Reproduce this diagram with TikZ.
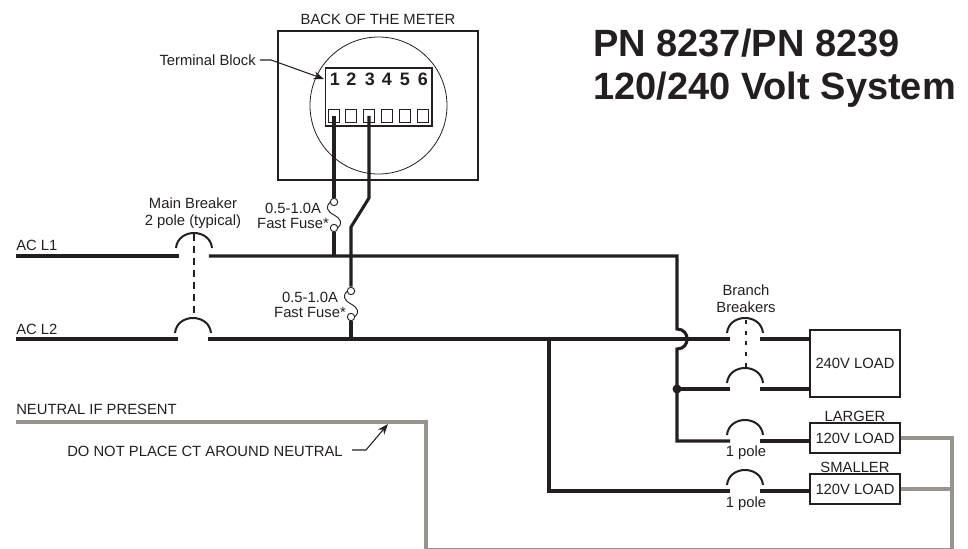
\documentclass[tikz,border=0pt]{standalone}
\usepackage{fontspec}
\setmainfont{Liberation Sans}
\usetikzlibrary{arrows.meta}
\definecolor{ink}{RGB}{35,31,32}
\definecolor{neutralgrey}{RGB}{150,148,140}
\newcommand{\labelsize}{\fontsize{11.1}{12.5}\selectfont}
\tikzset{
    wire/.style={draw=ink, line width=2.3pt},
    neutral/.style={draw=neutralgrey, line width=2.3pt},
    leader/.style={draw=ink, line width=0.8pt},
    label/.style={inner sep=0pt, text=ink, font=\labelsize, align=center},
    loadbox/.style={
        draw=ink, line width=1pt, inner sep=0pt, text=ink,
        font=\labelsize,
        minimum width=67.5pt,
        minimum height=#1
    },
    breaker/.style={
        inner sep=0pt,
        minimum width=21.75pt,
        minimum height=0pt,
        append after command={
            \pgfextra{
                \draw[ink, line width=1.5pt, shift={(\tikzlastnode.center)}] (-18,-#1)
                    .. controls (-16,-#1-20) and (16,-#1-20) .. (18,-#1);
            }
        }
    },
    breaker/.default=6,
    fuse/.style={
        inner sep=0pt,
        minimum width=0pt,
        minimum height=25.5pt,
        append after command={
            \pgfextra{
                \begin{scope}[shift={(\tikzlastnode.center)}, ink, line width=0.7pt]
                    \draw (-3.5,-13) .. controls (-9,-8) and (-7,-4) .. (0,0)
                        .. controls (7,4) and (9,8) .. (3.5,13);
                    \draw[fill=white] (0,-13) circle [radius=3.7];
                    \draw[fill=white] (0,13) circle [radius=3.7];
                \end{scope}
            }
        }
    },
    terminal/.style={
        draw=ink, line width=0.7pt, inner sep=0pt, minimum width=8.2pt, minimum height=9.5pt
    }
}

\begin{document}
\begin{tikzpicture}[x=0.75pt,y=-0.75pt]
    \useasboundingbox (0,0) rectangle (968,549);

    % Title
    \node[anchor=west, inner sep=0pt, text=ink, font=\fontsize{28.5}{32.25}\selectfont\bfseries, align=left] (title) at (593,68)
        {PN 8237/PN 8239\\120/240 Volt System};

    % Back of the meter
    \node[label] (backlabel) at (378,19) {BACK OF THE METER};
    \node[draw=ink, line width=1pt, minimum width=150pt, minimum height=111.75pt, inner sep=0pt] (meter) at (378,105.5) {};
    \node[draw=ink, line width=0.6pt, circle, minimum size=102.75pt, inner sep=0pt] (dial) at (378.5,105.5) {};
    \node[draw=ink, line width=1pt, minimum width=80pt, minimum height=43.5pt, inner sep=0pt] (block) at (378.5,97) {};
    \foreach \n/\x in {1/335,2/351.5,3/370,4/387,5/405,6/423} {
        \node[anchor=base, inner sep=0pt, text=ink, font=\fontsize{13.5}{15}\selectfont\bfseries] (num\n) at (\x,86) {\n};
    }
    \foreach \n/\x in {1/334,2/351,3/369,4/387,5/405,6/423} {
        \node[terminal] (term\n) at (\x,116) {};
    }

    % Terminal block label
    \node[label, anchor=east] (blocklabel) at (256,60) {Terminal Block};
    \coordinate (blocktip) at (324,79);
    \draw[leader, -{Stealth[length=8pt,width=6pt]}] (blocklabel.east) ++(4,0) -- (271,60) -- (blocktip);

    % Main lines
    \node[label, anchor=west] (l1label) at (16,245) {AC L1};
    \node[label, anchor=west] (l2label) at (16,329) {AC L2};
    \coordinate (l1start) at (16,256);
    \coordinate (l2start) at (16,339);
    \node[breaker=8] (mainA) at (194,256) {};
    \node[breaker] (mainB) at (193,339) {};
    \node[label] (mainlabel) at (193,213.5) {Main Breaker\\2 pole (typical)};
    \draw[leader, line width=1.1pt, dash pattern=on 5pt off 4pt] (194,234) -- (194,317);

    % Fuses
    \node[fuse] (fuseA) at (334,215) {};
    \node[fuse] (fuseB) at (351,304) {};
    \node[label] (fuseAlabel) at (293,216) {0.5-1.0A\\[-1.5pt]Fast Fuse*};
    \node[label] (fuseBlabel) at (310,305) {0.5-1.0A\\[-1.5pt]Fast Fuse*};
    \coordinate (l1tap) at (334,256);
    \coordinate (l2tap) at (351,339);
    \coordinate (kneeA) at (369,198);
    \coordinate (kneeB) at (351,227);
    \coordinate (l1turn) at (677,256);
    \coordinate (hopA) at (677,329);
    \coordinate (hopB) at (677,349);
    \coordinate (smallturn) at (549,491);
    \coordinate (l2split) at (549,339);

    \draw[wire] (term1.center) -- (fuseA.north);
    \draw[wire] (fuseA.south) -- (l1tap);
    \draw[wire] (term3.center) -- (kneeA) -- (kneeB) -- (fuseB.north);
    \draw[wire] (fuseB.south) -- (l2tap);

    % Branch breakers
    \node[breaker] (branchA) at (745,339) {};
    \node[breaker] (branchB) at (745,389) {};
    \node[breaker] (branchC) at (745,441) {};
    \node[breaker] (branchD) at (745,491) {};
    \node[label] (branchlabel) at (746,298.5) {Branch\\Breakers};
    \node[label] (poleC) at (746,453) {1 pole};
    \node[label] (poleD) at (746,504) {1 pole};
    \draw[leader, line width=1.1pt, dash pattern=on 3pt off 5pt] (746,320) -- (746,367);

    % Loads
    \node[loadbox=50.25pt] (load240) at (855,363.5) {240V LOAD};
    \node[loadbox=22.5pt] (loadlarge) at (855,438) {120V LOAD};
    \node[loadbox=22.5pt] (loadsmall) at (855,489) {120V LOAD};
    \node[label] (largelabel) at (855,416) {LARGER};
    \node[label] (smalllabel) at (855,467) {SMALLER};

    % Hot wires
    \draw[wire] (l1start) -- (mainA.west);
    \draw[wire] (mainA.east) -- (l1turn) -- (hopA)
        .. controls (690.5,329) and (690.5,349) .. (hopB) |- (branchC.west);
    \draw[wire] (l2start) -- (mainB.west);
    \draw[wire] (mainB.east) -- (branchA.west);
    \draw[wire] (branchA.east) -- (load240.west |- branchA);
    \draw[wire] (hopB |- branchB) -- (branchB.west);
    \draw[wire] (branchB.east) -- (load240.west |- branchB);
    \draw[wire] (branchC.east) -- (loadlarge.west |- branchC);
    \draw[wire] (l2split) -- (smallturn) -- (branchD.west);
    \draw[wire] (branchD.east) -- (loadsmall.west |- branchD);
    \fill[ink] (hopB |- branchB) circle [radius=4.5];

    % Neutral
    \node[label, anchor=west] (neutrallabel) at (16,409) {NEUTRAL IF PRESENT};
    \node[label, anchor=east] (warnlabel) at (343,451) {DO NOT PLACE CT AROUND NEUTRAL};
    \coordinate (neutralstart) at (16,422);
    \coordinate (neutralcorner) at (426,422);
    \coordinate (neutralbottom) at (426,549.5);
    \coordinate (returncorner) at (952,549.5);
    \coordinate (warntip) at (388,424);
    \draw[neutral] (neutralstart) -- (neutralcorner) -- (neutralbottom) -- (returncorner) -- (loadlarge.east -| returncorner) -- (loadlarge.east);
    \draw[neutral] (loadsmall.east) -- (loadsmall.east -| returncorner);
    \draw[leader, -{Stealth[length=8pt,width=6pt]}] (warnlabel.east) ++(9,-1) -- (366,450) -- (warntip);
\end{tikzpicture}
\end{document}
